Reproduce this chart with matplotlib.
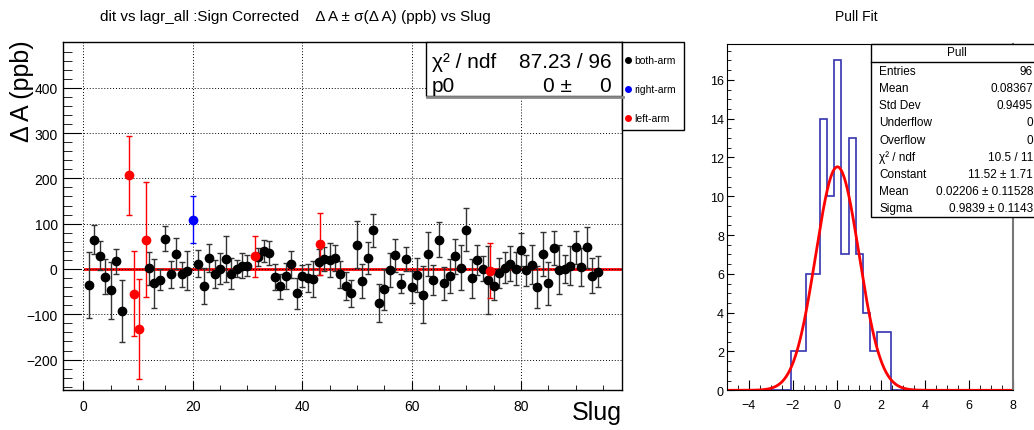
import numpy as np
import matplotlib.pyplot as plt
from matplotlib.patches import Rectangle
from matplotlib.lines import Line2D
from matplotlib.ticker import MultipleLocator

plt.rcParams["font.family"] = ["Liberation Sans", "DejaVu Sans"]

# ---- data: dA vs slug ----
slug_both = [1, 2, 3, 4, 5, 6, 7,
             12, 13, 14, 15, 16, 17, 18, 19,
             21, 22, 23, 24, 25, 26, 27, 28, 29, 30,
             32, 33, 34, 35, 36, 37, 38, 39, 40, 41, 42, 43, 44, 45, 46, 47, 48, 49, 50,
             51, 52, 53, 54, 55, 56, 57, 58, 59, 60, 61, 62, 63, 64, 65, 66, 67, 68, 69, 70,
             71, 72, 73, 74, 75, 76, 77, 78, 79, 80, 81, 82, 83, 84, 85, 86, 87, 88, 89, 90,
             91, 92, 93, 94]
dA_both = [-35, 64, 29, -17, -47, 17, -93,
           1.5, -32, -24, 67, -12, 34, -12, -4,
           12, -37, 24, -12, 1, 22, -10, 1, 7, 7,
           26, 40, 35, -17, -38, -16, 10, -54, -15, -20, -22, 16, 22, 20, 24, -12, -38, -54, 54,
           -27, 24, 85, -76, -45, -2, 30, -33, 22, -40, -13, -57, 33, -24, 65, -32, -16, 28, 3, 87,
           -21, 20, 1, -24, -38, -9, 3, 12, 1, 43, -3, 9, -40, 33, -32, 46, -2, 0, 7, 48,
           5, 48, -15, -6]
err_both = [73, 32, 32, 38, 63, 27, 69,
            37, 55, 23, 28, 29, 35, 27, 43,
            29, 40, 31, 31, 35, 50, 35, 19, 28, 23,
            20, 25, 26, 29, 28, 29, 29, 34, 24, 31, 40, 29, 26, 38, 28, 29, 31, 29, 52,
            37, 35, 37, 42, 45, 38, 37, 21, 27, 35, 38, 63, 48, 33, 38, 36, 38, 39, 50, 47,
            42, 34, 27, 75, 31, 34, 34, 38, 36, 36, 34, 43, 47, 49, 47, 37, 54, 30, 43, 36,
            42, 45, 39, 34]

slug_right = [20]
dA_right = [109]
err_right = [51]

slug_left = [8.4, 9.3, 10.25, 11.4, 31.3, 43.3, 74.4]
dA_left = [207, -55, -132, 65, 28, 55, -4]
err_left = [87, 94, 110, 127, 45, 68, 61]

fit_p0 = 0
fit_chi2, fit_ndf = 87.23, 96

# ---- data: pull histogram ----
pull_edges = np.linspace(-5, 8, 41)
pull_counts = [0] * 9 + [2, 2, 6, 6, 14, 10, 17, 7, 13, 7, 4, 2, 3, 3] + [0] * 17
g_const, g_mean, g_sigma = 11.52, 0.02206, 0.9839

stats_rows = [("Entries", "96"), ("Mean", "0.08367"), ("Std Dev", "0.9495"),
              ("Underflow", "0"), ("Overflow", "0"), ("\u03c7\u00b2 / ndf", "10.5 / 11"),
              ("Constant", "11.52 \u00b1 1.71"), ("Mean", "0.02206 \u00b1 0.11528"),
              ("Sigma", "0.9839 \u00b1 0.1143")]

W, H = 1034, 431


def fx(p):
    return p / W


def fy(p):
    return 1 - p / H


fig = plt.figure(figsize=(W / 100, H / 100), dpi=100)

# ---------------- left panel ----------------
ax = fig.add_axes([fx(63.3), fy(390.5), (621.7 - 63.3) / W, (390.5 - 43) / H])
ax.plot([0.3, 98], [fit_p0, fit_p0], color="red", lw=2, zorder=1.5)
ax.errorbar(slug_both, dA_both, yerr=err_both, fmt="o", color="black", ecolor="#333333",
            ms=6, capsize=2, elinewidth=1, capthick=1, zorder=2)
ax.errorbar(slug_right, dA_right, yerr=err_right, fmt="o", color="blue",
            ms=6, capsize=2, elinewidth=1, capthick=1, zorder=2)
ax.errorbar(slug_left, dA_left, yerr=err_left, fmt="o", color="red",
            ms=6, capsize=2, elinewidth=1, capthick=1, zorder=2)

ax.set_xlim(-3.66, 98.4)
ax.set_ylim(-266, 501)
ax.set_xticks([0, 20, 40, 60, 80])
ax.set_yticks([-200, -100, 0, 100, 200, 300, 400])
ax.xaxis.set_minor_locator(MultipleLocator(5))
ax.yaxis.set_minor_locator(MultipleLocator(20))
ax.grid(True, which="major", linestyle=(0, (1, 2)), color="black", lw=0.7)
ax.tick_params(axis="y", which="major", direction="in", length=13, labelsize=10, pad=4)
ax.tick_params(axis="y", which="minor", direction="in", length=6.5)
ax.tick_params(axis="x", which="major", direction="in", length=6.5, labelsize=10, pad=7)
ax.tick_params(axis="x", which="minor", direction="in", length=3.5)
for s in ax.spines.values():
    s.set_linewidth(1)

fig.text(fx(22), fy(40), "\u0394 A (ppb)", rotation=90, ha="center", va="top", fontsize=18)
fig.text(fx(622), fy(420), "Slug", ha="right", va="baseline", fontsize=18)
fig.text(fx(100), fy(17), "dit vs lagr_all :Sign Corrected    \u0394 A \u00b1 \u03c3(\u0394 A) (ppb) vs Slug",
         ha="left", va="center", fontsize=11)

# fit box
fig.add_artist(Line2D([fx(427), fx(623)], [fy(98), fy(98)], color="#888888", lw=2))
fig.add_artist(Rectangle((fx(426), fy(97)), (622 - 426) / W, (97 - 43) / H,
                         transform=fig.transFigure, facecolor="white", edgecolor="black", lw=1))
fig.text(fx(432), fy(62), "\u03c7\u00b2 / ndf", ha="left", va="center", fontsize=15)
fig.text(fx(612), fy(62), f"{fit_chi2:.2f} / {fit_ndf}", ha="right", va="center", fontsize=15)
fig.text(fx(432), fy(86), "p0", ha="left", va="center", fontsize=15)
fig.text(fx(572), fy(86), f"{fit_p0} \u00b1", ha="right", va="center", fontsize=15)
fig.text(fx(611), fy(86), f"{fit_p0}", ha="right", va="center", fontsize=15)

# legend
fig.add_artist(Rectangle((fx(622), fy(131)), (684 - 622) / W, (131 - 43) / H,
                         transform=fig.transFigure, facecolor="white", edgecolor="black", lw=1))
for yy, col, lab in [(60.7, "black", "both-arm"), (90, "blue", "right-arm"), (118.7, "red", "left-arm")]:
    fig.add_artist(Line2D([fx(628.3)], [fy(yy)], marker="o", ms=4, color=col, ls="none"))
    fig.text(fx(634), fy(yy), lab, ha="left", va="center", fontsize=7.5)

# ---------------- right panel ----------------
ax2 = fig.add_axes([fx(726.7), fy(391.3), (1013.3 - 726.7) / W, (391.3 - 45) / H])
ax2.stairs(pull_counts, pull_edges, color="#3434b0", lw=1.2)
xg = np.linspace(-5, 8, 600)
ax2.plot(xg, g_const * np.exp(-0.5 * ((xg - g_mean) / g_sigma) ** 2), color="red", lw=2)
ax2.set_xlim(-5, 8)
ax2.set_ylim(0, 17.85)
ax2.set_xticks(range(-4, 9, 2))
ax2.set_yticks(range(0, 17, 2))
ax2.xaxis.set_minor_locator(MultipleLocator(0.5))
ax2.yaxis.set_minor_locator(MultipleLocator(0.5))
ax2.tick_params(axis="both", which="major", direction="in", labelsize=9)
ax2.tick_params(axis="x", which="major", length=7.5, pad=6)
ax2.tick_params(axis="x", which="minor", direction="in", length=3.5)
ax2.tick_params(axis="y", which="major", length=5, pad=2)
ax2.tick_params(axis="y", which="minor", direction="in", length=3)
ax2.spines["right"].set_color("#777777")
ax2.spines["right"].set_linewidth(1.5)

fig.text(fx(856), fy(17), "Pull Fit", ha="center", va="center", fontsize=10)

# stats box
fig.add_artist(Rectangle((fx(871), fy(218.3)), (1045 - 871) / W, (218.3 - 45) / H,
                         transform=fig.transFigure, facecolor="white", edgecolor="black", lw=1))
fig.add_artist(Line2D([fx(871), fx(1045)], [fy(62.7), fy(62.7)], color="black", lw=1))
fig.text(fx(956.7), fy(53.5), "Pull", ha="center", va="center", fontsize=8.5)
for i, (k, v) in enumerate(stats_rows):
    yy = 71.7 + i * 17.2
    fig.text(fx(879), fy(yy), k, ha="left", va="center", fontsize=8.5)
    fig.text(fx(1033), fy(yy), v, ha="right", va="center", fontsize=8.5)

fig.savefig("out.png", dpi=100)
